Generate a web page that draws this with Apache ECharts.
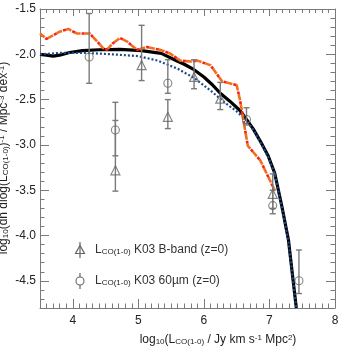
<!DOCTYPE html>
<html><head><meta charset="utf-8">
<script src="https://cdn.jsdelivr.net/npm/echarts@6/dist/echarts.min.js"></script>
<style>html,body{margin:0;padding:0;background:#fff}#c{width:349px;height:349px}</style>
</head><body><div id="c"></div>
<script>
// ---- axis ranges and tick labels ----
const X_MIN = 3.5, X_MAX = 8, Y_MIN = -4.8, Y_MAX = -1.5;
const xTickValues = [4, 5, 6, 7, 8];
const yTickValues = [-4.5, -4.0, -3.5, -3.0, -2.5, -2.0, -1.5];

// ---- model curves ----
const blackX = [3.5, 3.6, 3.7, 3.8, 3.95, 4.15, 4.4, 4.72, 5.05, 5.35, 5.55, 5.7, 5.85, 6.0, 6.12, 6.25, 6.4, 6.55, 6.65, 6.75, 6.87, 6.98, 7.08, 7.19, 7.29, 7.36, 7.41];
const blackY = [-2.00, -2.01, -2.02, -2.01, -1.98, -1.96, -1.95, -1.945, -1.96, -1.99, -2.06, -2.11, -2.17, -2.25, -2.33, -2.43, -2.52, -2.62, -2.72, -2.82, -2.97, -3.12, -3.31, -3.68, -4.05, -4.49, -4.80];

const blueX = [3.5, 3.8, 4.2, 4.6, 5.0, 5.3, 5.6, 5.85, 6.1, 6.35, 6.5, 6.65, 6.75, 6.87, 6.98, 7.08, 7.19, 7.29, 7.36, 7.41];
const blueY = [-2.00, -1.985, -1.985, -2.00, -2.02, -2.07, -2.16, -2.26, -2.40, -2.55, -2.63, -2.73, -2.83, -2.98, -3.13, -3.32, -3.69, -4.06, -4.50, -4.80];

const orangeX = [3.5, 3.6, 3.8, 3.93, 4.06, 4.26, 4.46, 4.52, 4.61, 4.72, 4.83, 4.98, 5.13, 5.33, 5.48, 5.64, 5.8, 5.9, 6.1, 6.28, 6.5, 6.55, 6.62, 6.67, 6.86, 7.08];
const orangeY = [-1.77, -1.83, -1.75, -1.72, -1.77, -1.77, -1.93, -1.95, -1.88, -1.82, -1.86, -1.95, -1.92, -1.95, -1.99, -2.07, -2.08, -2.07, -2.12, -2.30, -2.34, -2.50, -2.80, -3.01, -3.17, -3.50];

// ---- K03 B-band (triangles) ----
const bandX  = [4.65, 5.05, 5.45, 5.85, 6.25, 7.05];
const bandY  = [-3.28, -2.12, -2.69, -2.25, -2.49, -3.54];
const bandHi = [-2.73, -1.68, -2.50, -2.06, -2.31, -3.32];
const bandLo = [-3.51, -2.29, -2.82, -2.38, -2.61, -3.70];

// ---- K03 60um (circles) ----
const firX  = [4.25, 4.65, 5.45, 6.65, 7.05, 7.45];
const firY  = [-2.03, -2.835, -2.32, -2.72, -3.67, -4.50];
const firHi = [-1.55, -2.53, -2.06, -2.59, -3.50, -4.16];
const firLo = [-2.32, -3.12, -2.43, -2.78, -3.76, -4.64];

const FONT = 'Liberation Sans';
const AX = '#7a7a7a';
const zip = (a, b) => a.map((v, i) => [v, b[i]]);

function errSeries(xs, ys, hi, lo) {
  return {
    type: 'custom', xAxisIndex: 0, yAxisIndex: 0, z: 4,
    data: xs.map((x, i) => [x, ys[i], hi[i], lo[i]]),
    renderItem: (params, api) => {
      const x = api.value(0);
      const p1 = api.coord([x, api.value(2)]);
      const p2 = api.coord([x, api.value(3)]);
      const cw = 3;
      return { type: 'group', children: [
        { type: 'line', shape: { x1: p1[0], y1: p1[1], x2: p2[0], y2: p2[1] }, style: { stroke: '#7a7a7a', lineWidth: 1.4 } },
        { type: 'line', shape: { x1: p1[0] - cw, y1: p1[1], x2: p1[0] + cw, y2: p1[1] }, style: { stroke: '#7a7a7a', lineWidth: 1.4 } },
        { type: 'line', shape: { x1: p2[0] - cw, y1: p2[1], x2: p2[0] + cw, y2: p2[1] }, style: { stroke: '#7a7a7a', lineWidth: 1.4 } }
      ]};
    }
  };
}

// minor-tick axes (every 0.1) that also carry the frame lines; the series use these
function xMinor(pos, len) {
  return { type: 'value', position: pos, min: X_MIN, max: X_MAX, interval: 0.1,
    axisLine: { show: true, onZero: false, lineStyle: { color: AX, width: 1 } },
    axisTick: { show: true, inside: true, length: len, lineStyle: { color: AX } },
    axisLabel: { show: false }, splitLine: { show: false } };
}
function yMinor(pos, len) {
  return { type: 'value', position: pos, min: Y_MIN, max: Y_MAX, interval: 0.1,
    axisLine: { show: true, onZero: false, lineStyle: { color: AX, width: 1 } },
    axisTick: { show: true, inside: true, length: len, lineStyle: { color: AX } },
    axisLabel: { show: false }, splitLine: { show: false } };
}
// major-tick axes (every 1 in x, every 0.5 in y)
function xMajor(pos, len) {
  return { type: 'value', position: pos, min: X_MIN, max: X_MAX, minInterval: 1, maxInterval: 1,
    axisLine: { show: false, onZero: false },
    axisTick: { show: true, inside: true, length: len, lineStyle: { color: AX } },
    axisLabel: { show: false }, splitLine: { show: false } };
}
function yMajor(pos, len) {
  return { type: 'value', position: pos, min: Y_MIN, max: Y_MAX, minInterval: 0.5, maxInterval: 0.5,
    axisLine: { show: false, onZero: false },
    axisTick: { show: true, inside: true, length: len, lineStyle: { color: AX } },
    axisLabel: { show: false }, splitLine: { show: false } };
}

const sub = { fontSize: 8, fontFamily: FONT, fill: '#222', verticalAlign: 'bottom', lineHeight: 9 };
const sup = { fontSize: 8, fontFamily: FONT, fill: '#222', verticalAlign: 'top', lineHeight: 9 };

const chart = echarts.init(document.getElementById('c'), null, { renderer: 'canvas' });
chart.setOption({
  animation: false,
  grid: { left: 40, right: 14, top: 9, bottom: 41 },
  xAxis: [
    xMinor('bottom', 4.5), xMinor('top', 4), xMajor('bottom', 9), xMajor('top', 7),
    { type: 'value', position: 'bottom', min: X_MIN, max: X_MAX,
      axisLine: { show: false, onZero: false }, axisTick: { show: false }, splitLine: { show: false },
      axisLabel: { customValues: xTickValues, margin: 7, color: '#222', fontSize: 12, fontFamily: FONT, formatter: v => String(Math.round(v)) } }
  ],
  yAxis: [
    yMinor('left', 4.5), yMinor('right', 4.5), yMajor('left', 9), yMajor('right', 9),
    { type: 'value', position: 'left', min: Y_MIN, max: Y_MAX,
      axisLine: { show: false, onZero: false }, axisTick: { show: false }, splitLine: { show: false },
      axisLabel: { customValues: yTickValues, margin: 4, color: '#222', fontSize: 12, fontFamily: FONT, formatter: v => v.toFixed(1) } }
  ],
  series: [
    { type: 'line', name: 'model', xAxisIndex: 0, yAxisIndex: 0, data: zip(blackX, blackY), showSymbol: false, z: 2,
      lineStyle: { color: '#000', width: 3.2 } },
    { type: 'line', name: 'model2', xAxisIndex: 0, yAxisIndex: 0, data: zip(blueX, blueY), showSymbol: false, z: 2,
      lineStyle: { color: '#1d4a8c', width: 2.2, type: [2, 2] } },
    { type: 'line', name: 'obs1', xAxisIndex: 0, yAxisIndex: 0, data: zip(orangeX, orangeY), showSymbol: false, z: 3,
      lineStyle: { color: '#f07018', width: 2.6, type: [6, 4] } },
    { type: 'line', name: 'obs2', xAxisIndex: 0, yAxisIndex: 0, data: zip(orangeX, orangeY), showSymbol: false, z: 3,
      lineStyle: { color: '#ff1e1e', width: 2.6, type: [3, 7], dashOffset: 3 } },
    errSeries(bandX, bandY, bandHi, bandLo),
    errSeries(firX, firY, firHi, firLo),
    { type: 'scatter', name: 'B-band', xAxisIndex: 0, yAxisIndex: 0, data: zip(bandX, bandY), symbol: 'triangle', symbolSize: 9, z: 5,
      itemStyle: { color: 'rgba(255,255,255,0)', borderColor: '#666', borderWidth: 1.2 } },
    { type: 'scatter', name: '60um', xAxisIndex: 0, yAxisIndex: 0, data: zip(firX, firY), symbol: 'circle', symbolSize: 8, z: 5,
      itemStyle: { color: 'rgba(255,255,255,0)', borderColor: '#666', borderWidth: 1.1 } }
  ],
  graphic: [
    { type: 'text', x: 4, y: 158, rotation: Math.PI / 2, z: 10,
      style: { text: 'log{s|10}(dn dlog(L{s|CO(1-0)}){p|-1} / Mpc{p|-3} dex{p|-1})', align: 'center', verticalAlign: 'middle',
        fontSize: 12, fontFamily: FONT, fill: '#222', rich: { s: sub, p: sup } } },
    { type: 'text', x: 218, y: 340, z: 10,
      style: { text: 'log{s|10}(L{s|CO(1-0)} / Jy km s{p|-1} Mpc{p|2})', align: 'center', verticalAlign: 'middle',
        fontSize: 12, fontFamily: FONT, fill: '#222', rich: { s: sub, p: sup } } },
    { type: 'line', shape: { x1: 80, y1: 242, x2: 80, y2: 258 }, style: { stroke: '#7a7a7a', lineWidth: 1.4 }, z: 10 },
    { type: 'polygon', shape: { points: [[80, 245.5], [84.5, 253.5], [75.5, 253.5]] }, style: { fill: 'none', stroke: '#666', lineWidth: 1.2 }, z: 10 },
    { type: 'text', x: 95, y: 250, z: 10,
      style: { text: 'L{s|CO(1-0)} K03 B-band (z=0)', align: 'left', verticalAlign: 'middle', fontSize: 12, fontFamily: FONT, fill: '#333', rich: { s: sub } } },
    { type: 'line', shape: { x1: 80, y1: 273, x2: 80, y2: 289 }, style: { stroke: '#7a7a7a', lineWidth: 1.4 }, z: 10 },
    { type: 'circle', shape: { cx: 80, cy: 281, r: 4 }, style: { fill: '#fff', stroke: '#666', lineWidth: 1.1 }, z: 11 },
    { type: 'text', x: 95, y: 281, z: 10,
      style: { text: 'L{s|CO(1-0)} K03 60\u00b5m (z=0)', align: 'left', verticalAlign: 'middle', fontSize: 12, fontFamily: FONT, fill: '#333', rich: { s: sub } } }
  ]
});
</script>
</body></html>
